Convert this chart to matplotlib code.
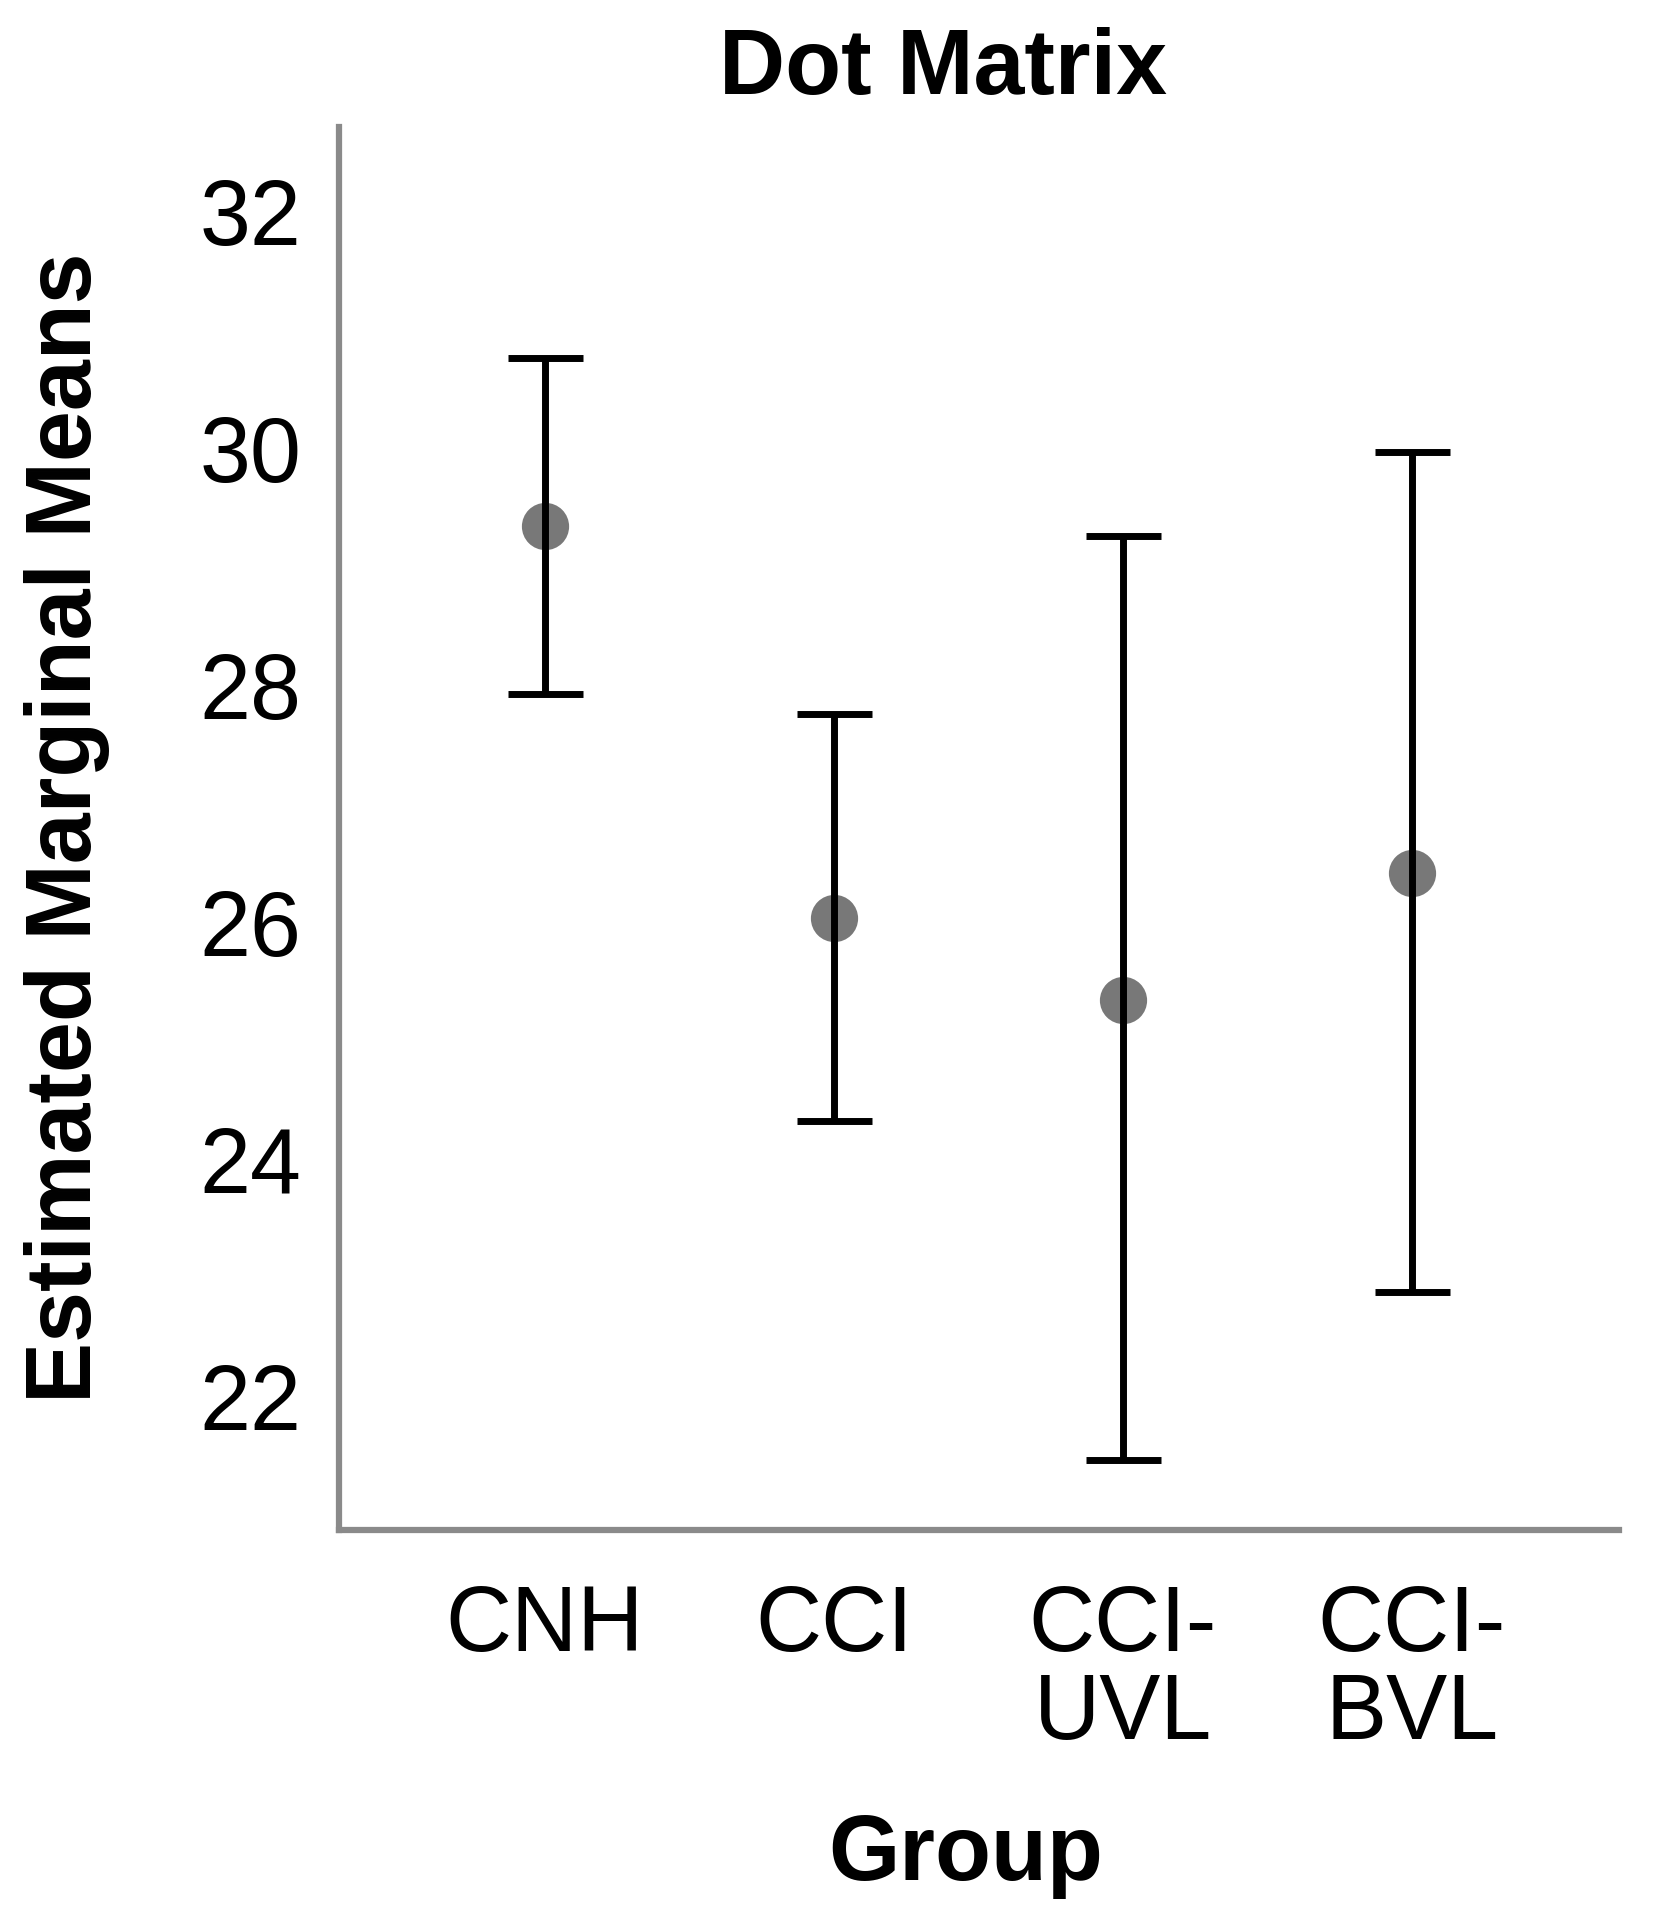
import matplotlib
matplotlib.use("Agg")
import matplotlib.pyplot as plt

plt.rcParams["font.family"] = ["Liberation Sans", "DejaVu Sans"]

# Valores (medias marginales estimadas e IC 95%)
grupos = ["CNH", "CCI", "CCI-\nUVL", "CCI-\nBVL"]
medias = [29.35, 26.04, 25.35, 26.42]
ic_inferior = [27.93, 24.32, 21.46, 22.88]
ic_superior = [30.77, 27.76, 29.26, 29.97]
ticks_y = [22, 24, 26, 28, 30, 32]

fig = plt.figure(figsize=(16.67, 19.2), dpi=100)
ax = fig.add_axes([0.2034, 0.2031, 0.971 - 0.2034, 0.934 - 0.2031])

x = list(range(len(grupos)))
err_bajo = [m - lo for m, lo in zip(medias, ic_inferior)]
err_alto = [hi - m for m, hi in zip(medias, ic_superior)]

ax.plot(x, medias, "o", color="#787878", markersize=34, zorder=2,
        markeredgewidth=0)
ax.errorbar(x, medias, yerr=[err_bajo, err_alto], fmt="none",
            ecolor="black", elinewidth=5, capsize=27, capthick=5, zorder=3)

ax.set_xlim(-0.713, 3.716)
ax.set_ylim(20.87, 32.72)
ax.set_yticks(ticks_y)
ax.set_yticklabels([str(t) for t in ticks_y])
ax.set_xticks(x)
ax.set_xticklabels(grupos, linespacing=1.02)

for lado in ["top", "right"]:
    ax.spines[lado].set_visible(False)
for lado in ["left", "bottom"]:
    ax.spines[lado].set_color("#8a8a8a")
    ax.spines[lado].set_linewidth(4.5)

ax.tick_params(axis="both", length=0, labelsize=66, colors="black")
ax.tick_params(axis="y", pad=27)
ax.tick_params(axis="x", pad=39)

fig.text(0.566, 0.951, "Dot Matrix", ha="center", va="baseline",
         fontsize=66, fontweight="bold")
fig.text(0.579, 1 - 1880 / 1920, "Group", ha="center", va="baseline",
         fontsize=66, fontweight="bold")
fig.text(0.040, 0.569, "Estimated Marginal Means", ha="center",
         va="center", rotation=90, fontsize=66, fontweight="bold")

fig.savefig("out.png", dpi=100)
